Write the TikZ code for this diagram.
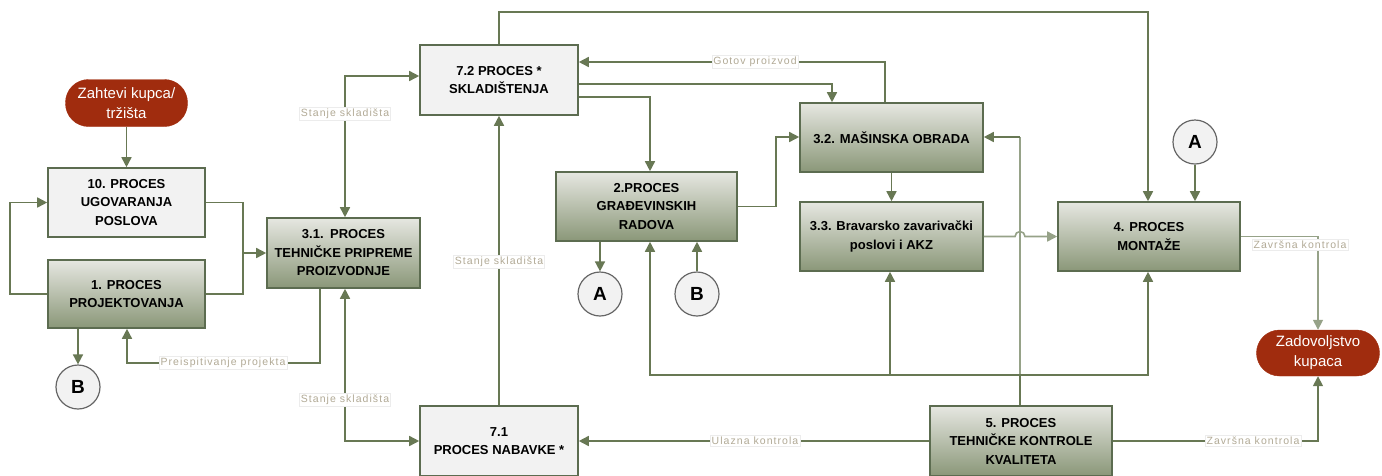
\documentclass[tikz,border=0pt]{standalone}
\usepackage{fontspec}
\setmainfont{Liberation Sans}
\newfontfamily\lblfont[LetterSpace=10]{Liberation Sans}
\usetikzlibrary{arrows.meta}
\definecolor{lineol}{RGB}{104,120,84}
\definecolor{linelt}{RGB}{150,162,136}
\definecolor{boxbd}{RGB}{92,108,80}
\definecolor{gtop}{RGB}{230,231,225}
\definecolor{gbot}{RGB}{138,151,120}
\definecolor{lightf}{RGB}{242,242,242}
\definecolor{redov}{RGB}{160,44,14}
\definecolor{lbltxt}{RGB}{178,170,150}
\tikzset{
  gbox/.style={draw=boxbd, line width=1.6pt, top color=gtop, bottom color=gbot, align=center,
    font=\bfseries\fontsize{13}{18.5}\selectfont, inner sep=0pt},
  lbox/.style={draw=boxbd, line width=1.6pt, fill=lightf, align=center,
    font=\bfseries\fontsize{13}{18.5}\selectfont, inner sep=0pt},
  terminal/.style={fill=redov, draw=redov, rounded corners=23pt, text=white, align=center,
    font=\fontsize{15}{20}\selectfont, inner sep=0pt},
  conn/.style={draw=gray!80!black, line width=1.2pt, fill=lightf, circle, minimum size=44pt,
    font=\bfseries\fontsize{19}{19}\selectfont, inner sep=0pt},
  arr/.style={draw=lineol, line width=1.6pt, -{Triangle[length=10pt,width=10pt]}},
  arrl/.style={draw=linelt, line width=1.6pt, -{Triangle[length=10pt,width=10pt]}},
  ln/.style={draw=lineol, line width=1.6pt},
  lnl/.style={draw=linelt, line width=1.6pt},
  lbl/.style={fill=white, draw=gray!15, text=lbltxt, font=\lblfont\fontsize{10.5}{11}\selectfont,
    inner sep=1.5pt},
}
\begin{document}
\begin{tikzpicture}[x=1pt,y=-1pt]
\useasboundingbox (0,0) rectangle (1382,475);
\clip (0,0) rectangle (1382,475);
% nodes
\node[terminal, minimum width=122pt, minimum height=47pt] (zah) at (126.5,103) {Zahtevi kupca/\\tržišta};
\node[lbox, minimum width=157pt, minimum height=69pt] (p10) at (126.5,202.5) {10. PROCES\\UGOVARANJA\\POSLOVA};
\node[gbox, minimum width=157pt, minimum height=68pt] (p1) at (126.5,294) {1. PROCES\\PROJEKTOVANJA};
\node[conn] (B1) at (78,387) {B};
\node[gbox, minimum width=153pt, minimum height=70pt] (p31) at (343.5,253) {3.1.\enspace PROCES\\TEHNIČKE PRIPREME\\PROIZVODNJE};
\node[lbox, minimum width=158pt, minimum height=70pt] (p72) at (499,80) {7.2 PROCES *\\SKLADIŠTENJA};
\node[gbox, minimum width=181pt, minimum height=69pt] (p2) at (646.5,206.5) {2.PROCES\\GRAĐEVINSKIH\\RADOVA};
\node[conn] (A1) at (600,294) {A};
\node[conn] (B2) at (697,294) {B};
\node[gbox, minimum width=183pt, minimum height=69pt] (p32) at (891.5,137.5) {3.2. MAŠINSKA OBRADA};
\node[gbox, minimum width=183pt, minimum height=69pt] (p33) at (891.5,236.5) {3.3. Bravarsko zavarivački\\poslovi i AKZ};
\node[gbox, minimum width=182pt, minimum height=69pt] (p4) at (1149,236.5) {4. PROCES\\MONTAŽE};
\node[conn] (A2) at (1195,142) {A};
\node[terminal, minimum width=123pt, minimum height=46pt] (zad) at (1318,353) {Zadovoljstvo\\kupaca};
\node[lbox, minimum width=158pt, minimum height=70pt] (p71) at (499,441) {7.1\\PROCES NABAVKE *};
\node[gbox, minimum width=182pt, minimum height=70pt] (p5) at (1021,441) {5. PROCES\\TEHNIČKE KONTROLE\\KVALITETA};
% coordinates
\coordinate (top) at (499,12);
% connectors
\draw[arr] (zah.south) -- (p10.north);
\draw[arr] (p1.west) -- (10,294) -- (10,202.5) -- (p10.west);
\draw[ln] (p10.east) -- (243,202.5) -- (243,294) -- (p1.east);
\draw[arr] (243,253) -- (p31.west);
\draw[arr] (p1.south -| B1) -- (B1.north);
\draw[arr] (p31.south -| 320,0) -- (320,363) -- (127,363) -- (p1.south -| 127,0);
\node[lbl] (lpre) at (223,363) {Preispitivanje projekta};
\draw[arr] (345,114) -- (345,76) -- (p72.west |- 0,76);
\draw[arr] (345,114) -- (p31.north -| 345,0);
\node[lbl] (ls1) at (345,114) {Stanje skladišta};
\draw[arr] (345,400) -- (p31.south -| 345,0);
\draw[arr] (345,400) -- (345,441) -- (p71.west);
\node[lbl] (ls2) at (345,400) {Stanje skladišta};
\draw[arr] (p71.north) -- (p72.south);
\node[lbl] (ls3) at (499,262) {Stanje skladišta};
\draw[arr] (p72.north) -- (top) -- (1148,12) -- (p4.north -| 1148,0);
\draw[arr] (p32.north -| 885,0) -- (885,62) -- (p72.east |- 0,62);
\node[lbl] (lgot) at (755,62) {Gotov proizvod};
\draw[arr] (p72.east |- 0,84) -- (832,84) -- (p32.north -| 832,0);
\draw[arr] (p72.east |- 0,97) -- (650,97) -- (p2.north -| 650,0);
\draw[arr] (p2.east) -- (776,206.5) -- (776,137) -- (p32.west |- 0,137);
\draw[arr] (p2.south -| A1) -- (A1.north);
\draw[arr] (B2.north) -- (p2.south -| B2);
\draw[arr] (p32.south) -- (p33.north);
\draw[lnl] (1020,375) -- (1020,137);
\draw[arr] (1020,137) -- (p32.east |- 0,137);
\draw[ln] (p5.north -| 1020,0) -- (1020,375);
\draw[arr] (1020,375) -- (650,375) -- (p2.south -| 650,0);
\draw[arr] (890,375) -- (p33.south -| 890,0);
\draw[arr] (1020,375) -- (1148,375) -- (p4.south -| 1148,0);
\draw[arrl] (p33.east) -- (1015,236.5) arc[start angle=180, end angle=0, radius=5pt] -- (p4.west);
\draw[arr] (A2.south) -- (p4.north -| A2);
\draw[arrl] (p4.east) -- (1318,236.5) -- (zad.north);
\node[lbl] (lz1) at (1300,245) {Završna kontrola};
\draw[arr] (p5.east) -- (1318,441) -- (zad.south);
\node[lbl] (lz2) at (1253,441) {Završna kontrola};
\draw[arr] (p5.west) -- (p71.east);
\node[lbl] (lul) at (755,441) {Ulazna kontrola};
\end{tikzpicture}
\end{document}
